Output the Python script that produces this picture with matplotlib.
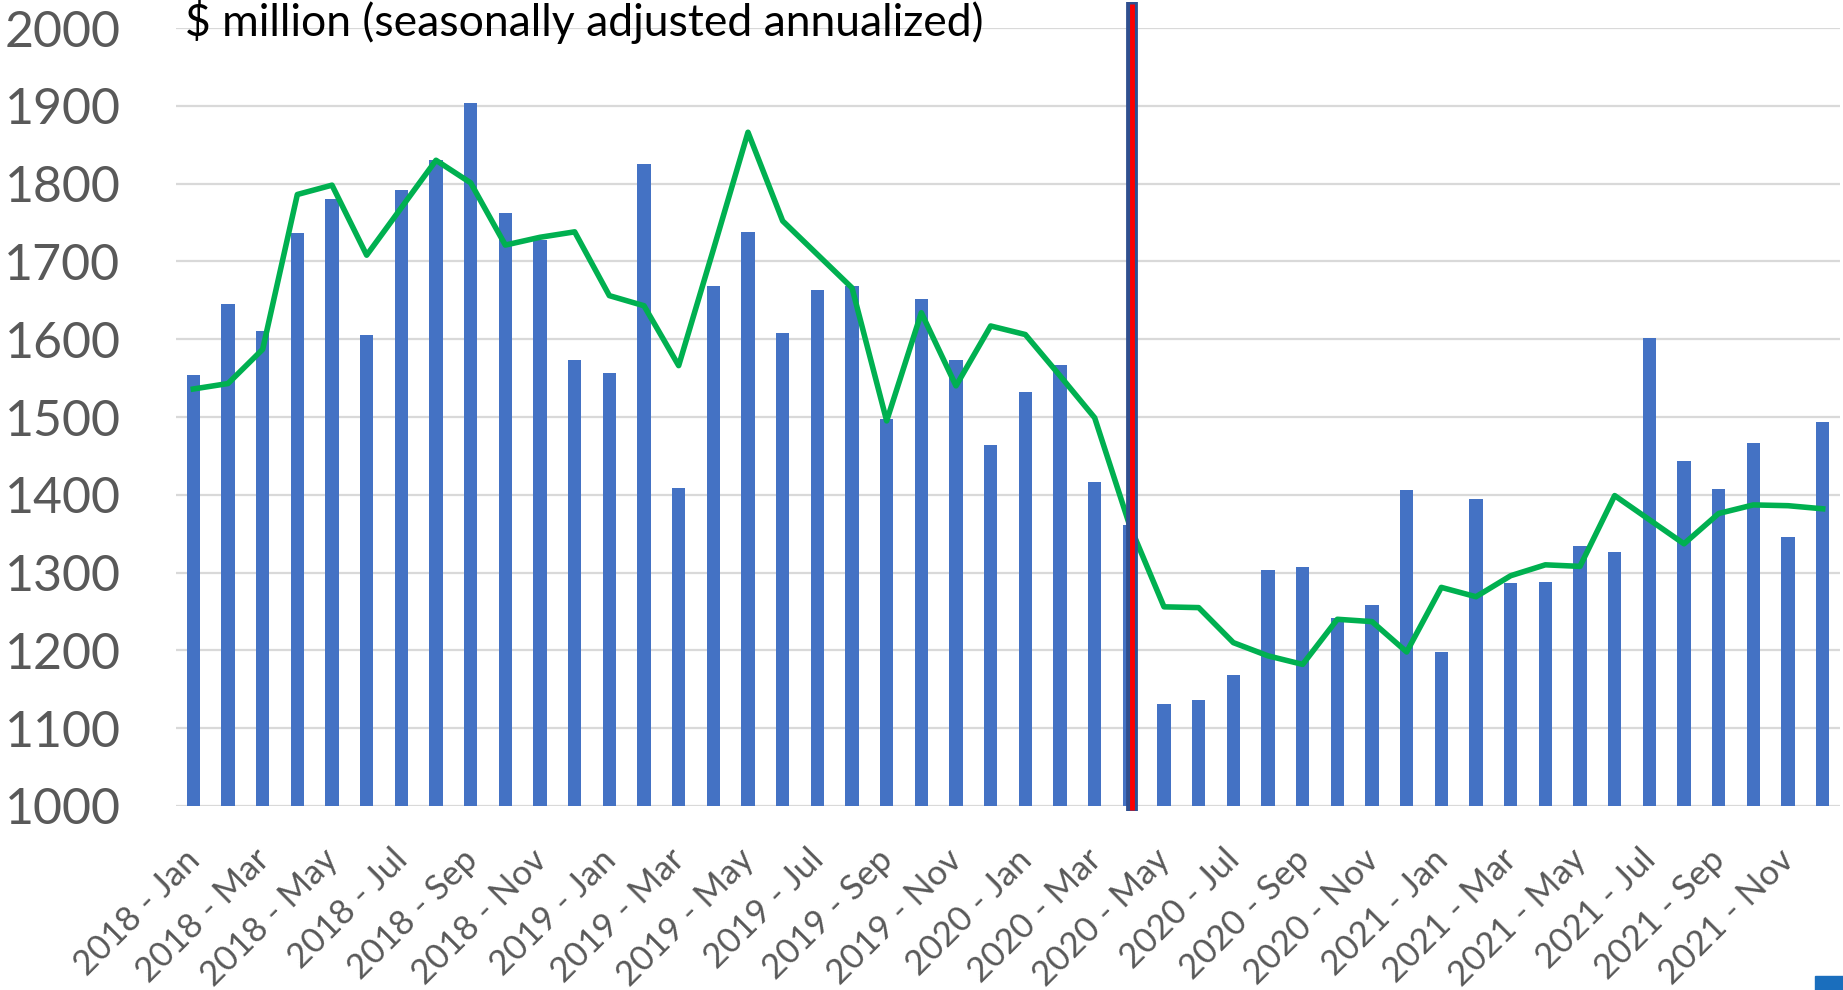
import matplotlib
matplotlib.use("Agg")
import matplotlib.pyplot as plt
from matplotlib.patches import Rectangle
from matplotlib.transforms import ScaledTranslation

# months Jan 2018 .. Dec 2021
years = ["2018", "2019", "2020", "2021"]
months = ["Jan", "Feb", "Mar", "Apr", "May", "Jun", "Jul", "Aug", "Sep", "Oct", "Nov", "Dec"]
labels = [y + " - " + m for y in years for m in months]

# monthly values ($ million, SAAR)
monthly = [1554, 1645, 1610, 1737, 1780, 1606, 1792, 1830, 1903, 1762, 1727, 1573,
           1556, 1825, 1409, 1668, 1738, 1608, 1663, 1668, 1498, 1652, 1573, 1464,
           1532, 1567, 1417, 1361, 1131, 1136, 1168, 1303, 1307, 1242, 1258, 1406,
           1198, 1394, 1286, 1288, 1334, 1327, 1601, 1443, 1407, 1466, 1346, 1494]

# green line values
trend = [1536, 1543, 1587, 1786, 1798, 1708, 1769, 1830, 1801, 1721, 1731, 1738,
         1656, 1643, 1566, 1715, 1866, 1752, 1709, 1666, 1495, 1634, 1540, 1617,
         1606, 1553, 1499, 1362, 1256, 1255, 1210, 1193, 1182, 1240, 1237, 1198,
         1281, 1269, 1296, 1310, 1308, 1399, 1368, 1337, 1376, 1387, 1386, 1382]

marker_month = 27  # 2020 - Apr

plt.rcParams['font.family'] = ['Lato', 'DejaVu Sans']

fig = plt.figure(figsize=(18.43, 9.90), dpi=100)
ax = fig.add_axes([176 / 1843, 1 - 806 / 990, 1664 / 1843, 778 / 990])

x = list(range(len(labels)))
ax.bar(x, [v - 1000 for v in monthly], bottom=1000, width=0.39, color="#4472C4", zorder=2)
ax.plot(x, trend, color="#00B050", linewidth=4.0, zorder=3)

# vertical marker (red with dark blue border)
ax.plot([marker_month + 0.07] * 2, [993, 2033], color="#2F4F8F", linewidth=8.5,
        solid_capstyle="butt", clip_on=False, zorder=4)
ax.plot([marker_month + 0.07] * 2, [995, 2031], color="#FF0000", linewidth=3.5,
        solid_capstyle="butt", clip_on=False, zorder=5)

ax.set_xlim(-0.5, len(labels) - 0.5)
ax.set_ylim(1000, 2000)
ax.set_yticks(range(1000, 2001, 100))
ax.yaxis.grid(True, color="#D9D9D9", linewidth=1.6, zorder=0)
ax.set_axisbelow(True)
for s in ax.spines.values():
    s.set_visible(False)
ax.tick_params(axis="y", length=0, pad=40, labelsize=36, labelcolor="#595959")

ax.set_xticks(x[::2])
ax.set_xticklabels(labels[::2], rotation=45, ha="right", rotation_mode="anchor",
                   fontsize=25, color="#595959")
ax.tick_params(axis="x", length=0, pad=27)
shift = ScaledTranslation(-10 / 100, 0, fig.dpi_scale_trans)
for lab in ax.get_xticklabels():
    lab.set_transform(lab.get_transform() + shift)

fig.text(185 / 1843, 1 - 36 / 990, "$ million (seasonally adjusted annualized)",
         fontsize=32, color="black", va="baseline", ha="left")

# small blue mark in the bottom-right corner
fig.patches.append(Rectangle((1815 / 1843, 0), 28 / 1843, 14 / 990,
                             transform=fig.transFigure, color="#1A6EBD"))

fig.savefig("out.png", dpi=100)
